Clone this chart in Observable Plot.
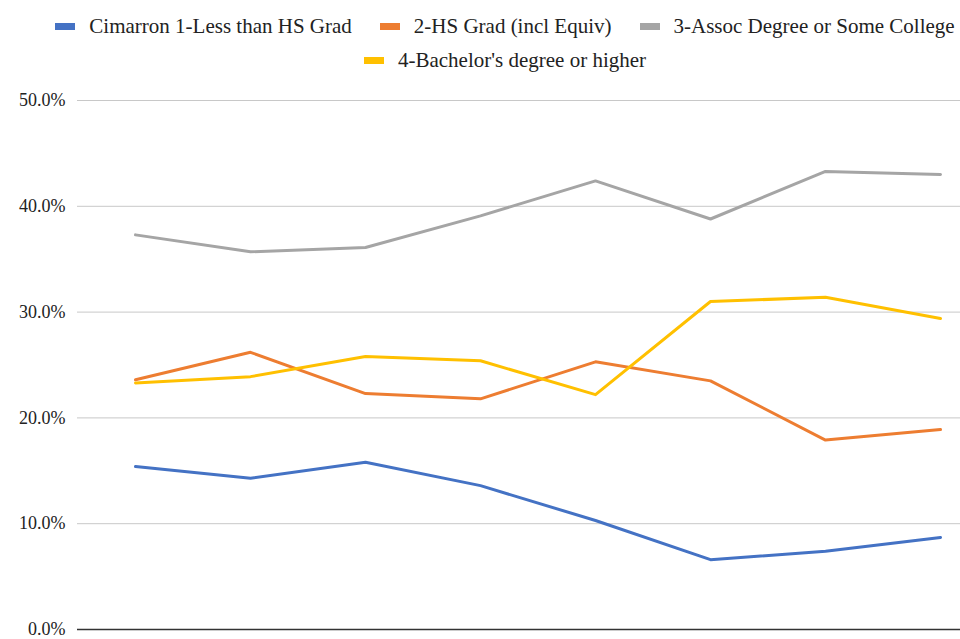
<!DOCTYPE html>
<html>
<head>
<meta charset="utf-8">
<script src="https://cdn.jsdelivr.net/npm/d3@7"></script>
<script src="https://cdn.jsdelivr.net/npm/@observablehq/plot@0.6"></script>
<style>
  html, body { margin: 0; padding: 0; background: #fff; overflow: hidden; }
  #legend { height: 80px; width: 960px; box-sizing: border-box; padding-left: 50px; padding-top: 9px;
            font-family: "Liberation Serif", "Tinos", "Times New Roman", "DejaVu Serif Condensed", "DejaVu Serif", serif;
            font-size: 21px; color: #222; }
  .row { display: flex; justify-content: center; gap: 28px; height: 34px; align-items: center; }
  .item { display: flex; align-items: center; white-space: nowrap; }
  .sw { width: 20px; height: 7px; margin-right: 14px; }
</style>
</head>
<body>
<div id="legend"></div>
<div id="chart"></div>
<script>
const periods = ["P1", "P2", "P3", "P4", "P5", "P6", "P7", "P8"];
const seriesNames = [
  "Cimarron 1-Less than HS Grad",
  "2-HS Grad (incl Equiv)",
  "3-Assoc Degree or Some College",
  "4-Bachelor's degree or higher"
];
const seriesColors = ["#4472C4", "#ED7D31", "#A5A5A5", "#FFC000"];
const lessThanHS = [15.4, 14.3, 15.8, 13.6, 10.3, 6.6, 7.4, 8.7];
const hsGrad     = [23.6, 26.2, 22.3, 21.8, 25.3, 23.5, 17.9, 18.9];
const assocSome  = [37.3, 35.7, 36.1, 39.1, 42.4, 38.8, 43.3, 43.0];
const bachelor   = [23.3, 23.9, 25.8, 25.4, 22.2, 31.0, 31.4, 29.4];
const yTicks = [0, 0.1, 0.2, 0.3, 0.4, 0.5];

const seriesValues = [lessThanHS, hsGrad, assocSome, bachelor];
const data = seriesNames.flatMap((s, i) =>
  periods.map((p, j) => ({series: s, period: p, value: seriesValues[i][j] / 100}))
);

// Legend
const legend = document.getElementById("legend");
const rows = [[0, 1, 2], [3]];
rows.forEach(r => {
  const row = document.createElement("div");
  row.className = "row";
  r.forEach(i => {
    const it = document.createElement("div");
    it.className = "item";
    const sw = document.createElement("div");
    sw.className = "sw";
    sw.style.background = seriesColors[i];
    const tx = document.createElement("span");
    tx.textContent = seriesNames[i];
    it.appendChild(sw); it.appendChild(tx);
    row.appendChild(it);
  });
  legend.appendChild(row);
});

const chart = Plot.plot({
  width: 960,
  height: 559,
  marginTop: 20,
  marginBottom: 10,
  marginLeft: 77,
  marginRight: 0,
  style: {fontFamily: "'Liberation Serif', 'Tinos', 'Times New Roman', 'DejaVu Serif Condensed', 'DejaVu Serif', serif", fontSize: "18px", color: "#222", background: "#fff"},
  x: {type: "point", domain: periods, range: [77.5, 997.5], padding: 0.5, axis: null},
  y: {domain: [0, 0.5], ticks: yTicks, tickFormat: d3.format(".1%"), tickSize: 0, tickPadding: 12, label: null},
  color: {domain: seriesNames, range: seriesColors},
  marks: [
    Plot.ruleY(yTicks.filter(d => d > 0), {stroke: "#c8c8c8", strokeWidth: 1}),
    Plot.ruleY([0], {stroke: "#333", strokeWidth: 1.5}),
    Plot.line(data, {x: "period", y: "value", z: "series", stroke: "series", strokeWidth: 3, curve: "linear"})
  ]
});
document.getElementById("chart").appendChild(chart);
</script>
</body>
</html>
